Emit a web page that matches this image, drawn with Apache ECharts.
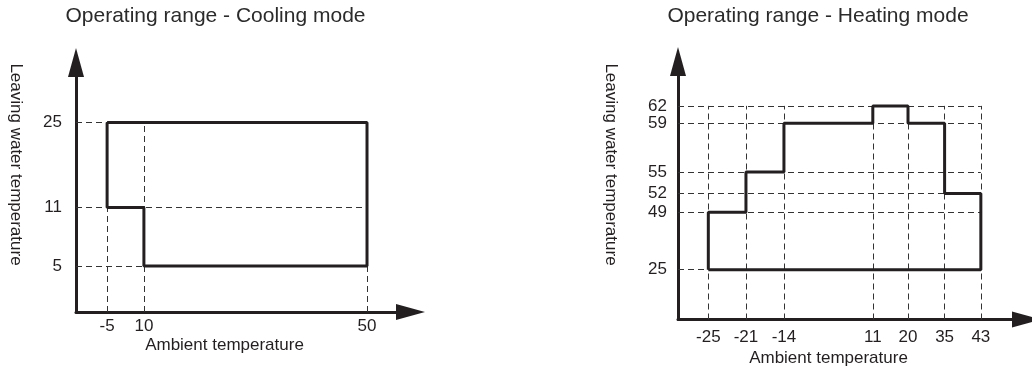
<!DOCTYPE html>
<html>
<head>
<meta charset="utf-8">
<title>Operating range</title>
<script src="https://cdn.jsdelivr.net/npm/echarts@6/dist/echarts.min.js"></script>
<style>
  html, body { margin: 0; padding: 0; background: #fff; }
  #main { width: 1032px; height: 370px; }
</style>
</head>
<body>
<div id="main"></div>
<script>
// cooling mode: ambient temperature (x) vs leaving water temperature (y)
var coolXTicks = [-5, 10, 50];
var coolYTicks = [5, 11, 25];
var coolX = [-5, 50, 50, 10, 10, -5, -5];
var coolY = [25, 25, 5, 5, 11, 11, 25];

// heating mode
var heatXTicks = [-25, -21, -14, 11, 20, 35, 43];
var heatYTicks = [25, 49, 52, 55, 59, 62];
var heatX = [-25, -25, -21, -21, -14, -14, 11, 11, 20, 20, 35, 35, 43, 43, -25];
var heatY = [25, 49, 49, 55, 55, 59, 59, 62, 62, 59, 59, 52, 52, 25, 25];

// the drawing is a sketch, not to scale: where each tick sits along its axis (0..100)
var coolXSlot = [9.3, 20.3, 87.0];
var coolYSlot = [18.4, 41.9, 76.0];
var heatXSlot = [8.7, 19.5, 30.4, 55.9, 66.0, 76.5, 86.9];
var heatYSlot = [19.3, 41.6, 48.8, 57.2, 76.1, 82.8];

var ink = '#231f20';
var font = '"Liberation Sans", Arial, Helvetica, sans-serif';

function place(v, ticks, slots) {
  return slots[ticks.indexOf(v)];
}
function labelOf(v, ticks, slots) {
  var best = 0;
  for (var i = 1; i < slots.length; i++) {
    if (Math.abs(slots[i] - v) < Math.abs(slots[best] - v)) best = i;
  }
  return String(ticks[best]);
}
function outline(xs, ys, xt, xsl, yt, ysl) {
  var d = [];
  for (var i = 0; i < xs.length; i++) d.push([place(xs[i], xt, xsl), place(ys[i], yt, ysl)]);
  return d;
}
// dashed guide lines from each axis out to the last tick
function guides(xsl, ysl) {
  var xm = xsl[xsl.length - 1], ym = ysl[ysl.length - 1];
  var d = [];
  xsl.forEach(function (x) { d.push({ coords: [[x, 0], [x, ym]] }); });
  ysl.forEach(function (y) { d.push({ coords: [[0, y], [xm, y]] }); });
  return d;
}
function axis(idx, ticks, slots, margin, pad) {
  return {
    type: 'value', gridIndex: idx, min: 0, max: 100,
    splitLine: { show: false }, axisTick: { show: false },
    axisLine: { lineStyle: { color: ink, width: 3 }, symbol: ['none', 'triangle'], symbolSize: [16, 29] },
    axisLabel: {
      customValues: slots, margin: margin, color: ink, fontSize: 17, fontFamily: font,
      padding: pad || 0,
      formatter: function (v) { return labelOf(v, ticks, slots); }
    }
  };
}

var chart = echarts.init(document.getElementById('main'));
var option = {
  animation: false,
  grid: [
    { left: 76, top: 62.5, width: 334.5, height: 249.5 },
    { left: 678, top: 61.5, width: 348.5, height: 258 }
  ],
  xAxis: [axis(0, coolXTicks, coolXSlot, 6), axis(1, heatXTicks, heatXSlot, 9)],
  yAxis: [axis(0, coolYTicks, coolYSlot, 14, [6, 0, 0, 0]), axis(1, heatYTicks, heatYSlot, 11, [3, 0, 0, 0])],
  series: [
    {
      type: 'lines', coordinateSystem: 'cartesian2d', xAxisIndex: 0, yAxisIndex: 0, z: 1,
      lineStyle: { color: '#333', width: 1, type: [6, 4], opacity: 1 },
      data: guides(coolXSlot, coolYSlot)
    },
    {
      type: 'line', xAxisIndex: 0, yAxisIndex: 0, z: 3, symbol: 'none',
      lineStyle: { color: ink, width: 3 },
      data: outline(coolX, coolY, coolXTicks, coolXSlot, coolYTicks, coolYSlot)
    },
    {
      type: 'lines', coordinateSystem: 'cartesian2d', xAxisIndex: 1, yAxisIndex: 1, z: 1,
      lineStyle: { color: '#333', width: 1, type: [6, 4], opacity: 1 },
      data: guides(heatXSlot, heatYSlot)
    },
    {
      type: 'line', xAxisIndex: 1, yAxisIndex: 1, z: 3, symbol: 'none',
      lineStyle: { color: ink, width: 3 },
      data: outline(heatX, heatY, heatXTicks, heatXSlot, heatYTicks, heatYSlot)
    }
  ],
  graphic: [
    { type: 'text', x: 215.5, y: 16.5, style: { text: 'Operating range - Cooling mode', font: '21px ' + font, fill: '#2b2b2b', align: 'center', verticalAlign: 'middle' } },
    { type: 'text', x: 818, y: 16.5, style: { text: 'Operating range - Heating mode', font: '21px ' + font, fill: '#2b2b2b', align: 'center', verticalAlign: 'middle' } },
    { type: 'text', x: 224.5, y: 345, style: { text: 'Ambient temperature', font: '17px ' + font, fill: ink, align: 'center', verticalAlign: 'middle' } },
    { type: 'text', x: 828.5, y: 358, style: { text: 'Ambient temperature', font: '17px ' + font, fill: ink, align: 'center', verticalAlign: 'middle' } },
    { type: 'text', x: 15.5, y: 164.5, rotation: -Math.PI / 2, style: { text: 'Leaving water temperature', font: '17px ' + font, fill: ink, align: 'center', verticalAlign: 'middle' } },
    { type: 'text', x: 611, y: 164.5, rotation: -Math.PI / 2, style: { text: 'Leaving water temperature', font: '17px ' + font, fill: ink, align: 'center', verticalAlign: 'middle' } }
  ]
};
chart.setOption(option);
</script>
</body>
</html>
